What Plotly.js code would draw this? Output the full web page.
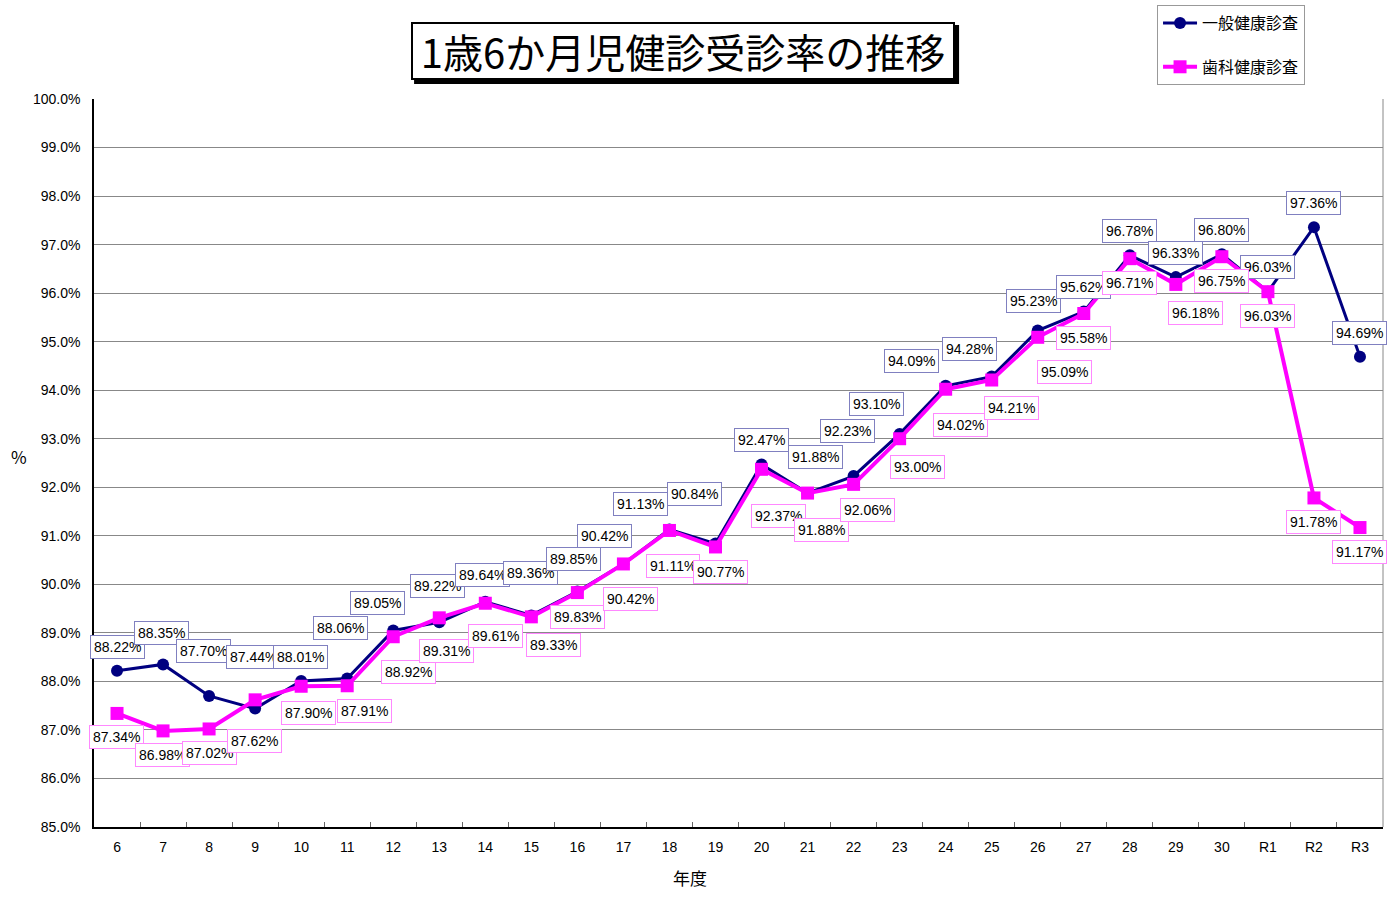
<!DOCTYPE html>
<html>
<head>
<meta charset="utf-8">
<script src="https://cdn.plot.ly/plotly-3.0.1.min.js"></script>
<style>html,body{margin:0;padding:0;background:#fff;}#chart{width:1396px;height:911px;}</style>
</head>
<body>
<div id="chart"></div>
<script>
// ---- data ----
const years = ['6','7','8','9','10','11','12','13','14','15','16','17','18','19','20','21','22','23','24','25','26','27','28','29','30','R1','R2','R3'];
const generalRate = [88.22,88.35,87.70,87.44,88.01,88.06,89.05,89.22,89.64,89.36,89.85,90.42,91.13,90.84,92.47,91.88,92.23,93.10,94.09,94.28,95.23,95.62,96.78,96.33,96.80,96.03,97.36,94.69];
const dentalRate = [87.34,86.98,87.02,87.62,87.90,87.91,88.92,89.31,89.61,89.33,89.83,90.42,91.11,90.77,92.37,91.88,92.06,93.00,94.02,94.21,95.09,95.58,96.71,96.18,96.75,96.03,91.78,91.17];
const seriesNames = ['一般健康診査','歯科健康診査'];
const chartTitle = '1歳6か月児健診受診率の推移';
const xTitle = '年度';
const yTitle = '%';

// ---- label placement (pixel offsets: dx, dy downward) ----
const genOffsets = [[0,-24],[-2,-31],[-6,-45],[-2,-52],[-1,-24],[-7,-50],[-16,-27],[-2,-36],[-3,-27],[-1,-42],[-4,-33],[-19,-28],[-29,-25],[-21,-50],[0,-24],[8,-36],[-6,-45],[-23,-30],[-34,-25],[-22,-28],[-4,-30],[0,-25],[0,-24],[0,-24],[0,-24],[0,-25],[0,-24],[0,-24]];
const denOffsets = [[-1,24],[-1,24],[0,24],[-1,41],[7,27],[17,25],[15,35],[7,33],[10,33],[22,28],[0,24],[7,35],[4,36],[5,25],[17,47],[14,37],[14,26],[18,28],[15,36],[20,28],[27,35],[0,24],[0,24],[20,29],[0,24],[0,24],[0,24],[0,24]];

const numFont = 'Liberation Sans, Arial, sans-serif';
const jpFont = 'Noto Sans CJK JP, sans-serif';

const traces = [
  {x: years, y: generalRate, name: seriesNames[0], type: 'scatter', mode: 'lines+markers',
   line: {color: '#000080', width: 3}, marker: {symbol: 'circle', size: 12, color: '#000080'}, legendgroup: 'g1'},
  {x: years, y: dentalRate, name: seriesNames[1], type: 'scatter', mode: 'lines+markers',
   line: {color: '#ff00ff', width: 4}, marker: {symbol: 'square', size: 13, color: '#ff00ff'}, legendgroup: 'g2'}
];

const annotations = [];
function addLabels(vals, offs, border) {
  vals.forEach((v, i) => {
    annotations.push({
      x: i, y: v, xref: 'x', yref: 'y', text: v.toFixed(2) + '%', showarrow: false,
      xshift: offs[i][0], yshift: -offs[i][1], xanchor: 'center', yanchor: 'middle',
      bgcolor: '#ffffff', bordercolor: border, borderwidth: 1, borderpad: 3,
      font: {family: numFont, size: 14, color: '#000'}
    });
  });
}
addLabels(generalRate, genOffsets, '#8080c0');
addLabels(dentalRate, denOffsets, '#ff88ff');

// title box (shadow is a shape)
annotations.push({xref: 'paper', yref: 'paper', x: 0.457, y: 1.066, text: chartTitle, showarrow: false,
  xanchor: 'center', yanchor: 'middle', width: 536, height: 50, align: 'center', valign: 'middle',
  bgcolor: '#fff', bordercolor: '#000', borderwidth: 2, borderpad: 2,
  font: {family: jpFont, size: 40, color: '#000'}});
annotations.push({xref: 'paper', yref: 'paper', x: -0.058, y: 0.509, text: yTitle, showarrow: false,
  xanchor: 'center', yanchor: 'middle', font: {family: jpFont, size: 17, color: '#000'}});
annotations.push({xref: 'paper', yref: 'paper', x: 0.4624, y: -0.0687, text: xTitle, showarrow: false,
  xanchor: 'center', yanchor: 'middle', font: {family: jpFont, size: 17, color: '#000'}});

const layout = {
  width: 1396, height: 911,
  margin: {l: 94, r: 13, t: 99, b: 84, autoexpand: false},
  paper_bgcolor: '#fff', plot_bgcolor: '#fff',
  showlegend: true,
  legend: {x: 0.8247, y: 1.129, xanchor: 'left', yanchor: 'top',
    bgcolor: '#fff', bordercolor: '#999', borderwidth: 1,
    font: {family: jpFont, size: 16, color: '#000'}, tracegroupgap: 20, itemwidth: 34},
  xaxis: {type: 'category', range: [-0.5, 27.5], showline: true, linecolor: '#000', linewidth: 1.5, ticks: 'inside', tickson: 'boundaries',
    ticklen: 5, tickcolor: '#666', showgrid: false, zeroline: false, ticklabelstandoff: 6,
    tickfont: {family: numFont, size: 14, color: '#000'}},
  yaxis: {range: [85, 100], dtick: 1, tickformat: '.1f', ticksuffix: '%', showline: true, linecolor: '#000', linewidth: 1.5,
    showgrid: true, gridcolor: '#888', gridwidth: 1, zeroline: false, ticks: '', ticklabelstandoff: 9,
    tickfont: {family: numFont, size: 14, color: '#000'}},
  shapes: [
    {type: 'line', xref: 'paper', yref: 'paper', x0: 1, x1: 1, y0: 0, y1: 1, line: {color: '#888', width: 1}},
    {type: 'rect', layer: 'above', xref: 'paper', yref: 'paper', xsizemode: 'pixel', ysizemode: 'pixel',
     xanchor: 0.457, yanchor: 1.066, x0: -269, x1: 276, y0: -33, y1: 26, fillcolor: '#000', line: {width: 0}}
  ],
  annotations: annotations
};

Plotly.newPlot('chart', traces, layout, {displayModeBar: false});
</script>
</body>
</html>
